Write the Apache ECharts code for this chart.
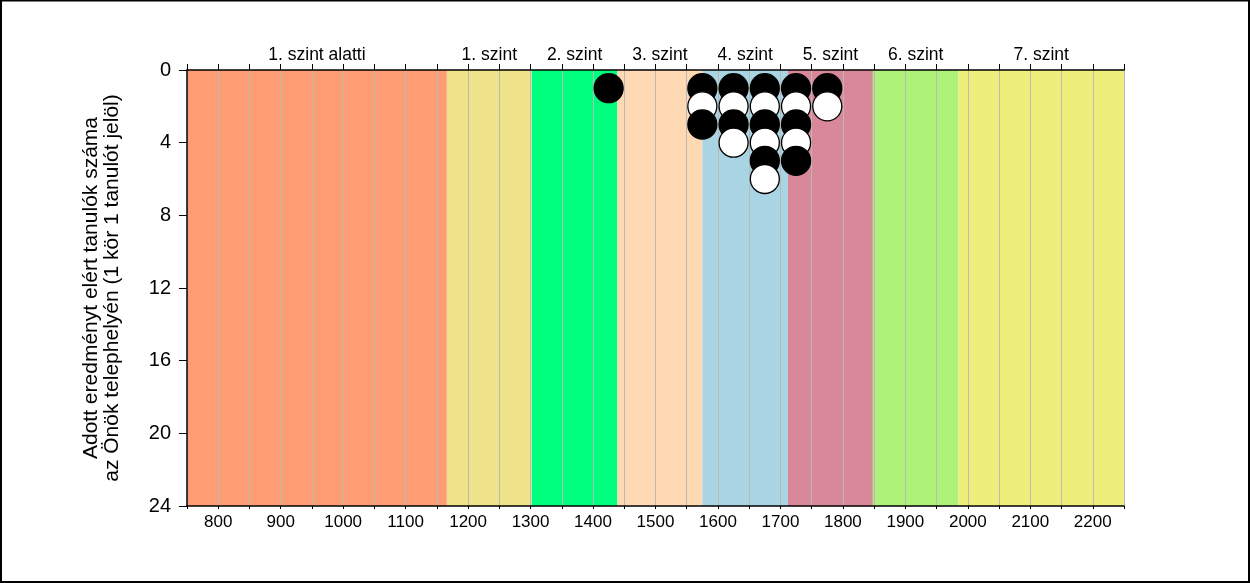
<!DOCTYPE html>
<html>
<head>
<meta charset="utf-8">
<script src="https://cdn.jsdelivr.net/npm/echarts@6/dist/echarts.min.js"></script>
<style>html,body{margin:0;padding:0;background:#fff}#c{width:1250px;height:583px}</style>
</head>
<body>
<div id="c"></div>
<script>
// Level bands (score ranges) and their labels
var bandNames  = ['1. szint alatti', '1. szint', '2. szint', '3. szint', '4. szint', '5. szint', '6. szint', '7. szint'];
var bandStarts = [750, 1166, 1302, 1439, 1575, 1712, 1848, 1985];
var bandEnds   = [1166, 1302, 1439, 1575, 1712, 1848, 1985, 2250];
var bandColors = ['#FE9C74', '#EFE38A', '#00FF7F', '#FFD8B4', '#A8D4E4', '#D9889A', '#AEF27A', '#EEEE7C'];

// Dot columns: score position and the colour sequence of stacked circles (B = black, W = white), from top down
var dotScores = [1425, 1575, 1625, 1675, 1725, 1775];
var dotStacks = ['B', 'BWB', 'BWBW', 'BWBWBW', 'BWBWB', 'BW'];

// Axis settings
var xMin = 750, xMax = 2250, xStep = 50;
var yMin = 0, yMax = 24, yStep = 4;

var bandData = bandNames.map(function (n, i) { return [bandStarts[i], bandEnds[i], i]; });
var dots = [];
dotScores.forEach(function (x, c) {
  var s = dotStacks[c];
  for (var k = 0; k < s.length; k++) {
    dots.push({ value: [x, k + 1], itemStyle: { color: s[k] === 'B' ? '#000000' : '#FFFFFF' } });
  }
});

var FONT = 'Liberation Sans, Arial, sans-serif';
var chart = echarts.init(document.getElementById('c'), null, { renderer: 'canvas' });
chart.setOption({
  animation: false,
  backgroundColor: '#fff',
  grid: { left: 187, right: 126, top: 70, bottom: 77 },
  xAxis: [{
    type: 'value', position: 'bottom', min: xMin, max: xMax, interval: xStep, z: 2,
    axisLine: { show: true, onZero: false, lineStyle: { color: '#000', width: 1.5 } },
    axisTick: { show: true, length: 3, lineStyle: { color: '#000' } },
    axisLabel: {
      show: true, color: '#000', fontSize: 17, fontFamily: FONT, margin: 8,
      formatter: function (v) { return v % 100 === 0 ? String(v) : ''; }
    },
    splitLine: { show: true, lineStyle: { color: '#B9B9B9', width: 1 } }
  }, {
    type: 'value', position: 'top', min: xMin, max: xMax, interval: xStep, z: 2,
    axisLine: { show: true, onZero: false, lineStyle: { color: '#000', width: 1.5 } },
    axisTick: { show: true, length: 6, lineStyle: { color: '#000' } },
    axisLabel: { show: false },
    splitLine: { show: false }
  }],
  yAxis: {
    type: 'value', inverse: true, min: yMin, max: yMax, interval: yStep, z: 2,
    name: 'Adott eredményt elért tanulók száma\naz Önök telephelyén (1 kör 1 tanulót jelöl)',
    nameLocation: 'middle', nameGap: 64,
    nameTextStyle: { color: '#000', fontSize: 21, fontFamily: FONT, lineHeight: 21 },
    axisLine: { show: true, onZero: false, lineStyle: { color: '#000', width: 1.5 } },
    axisTick: { show: true, length: 8, lineStyle: { color: '#000' } },
    axisLabel: { color: '#000', fontSize: 20, fontFamily: FONT, margin: 16 },
    splitLine: { show: false }
  },
  series: [{
    type: 'custom', z: 1, silent: true, clip: false,
    data: bandData,
    renderItem: function (params, api) {
      var x0 = api.value(0), x1 = api.value(1), i = api.value(2);
      var p0 = api.coord([x0, yMin]);
      var p1 = api.coord([x1, yMax]);
      return {
        type: 'group',
        children: [{
          type: 'rect',
          shape: { x: p0[0], y: p0[1], width: p1[0] - p0[0], height: p1[1] - p0[1] },
          style: { fill: bandColors[i] }
        }, {
          type: 'text',
          style: {
            text: bandNames[i], x: (p0[0] + p1[0]) / 2, y: p0[1] - 15,
            align: 'center', verticalAlign: 'middle',
            fill: '#000', fontSize: 17.5, fontFamily: FONT
          }
        }]
      };
    }
  }, {
    type: 'scatter', z: 3, symbol: 'circle', symbolSize: 29,
    itemStyle: { borderColor: '#000', borderWidth: 1.3, opacity: 1 },
    data: dots
  }],
  graphic: [{
    type: 'rect', silent: true, z: 100,
    shape: { x: 1, y: 0.5, width: 1248, height: 581.5 },
    style: { fill: 'none', stroke: '#000', lineWidth: 2 }
  }]
});
</script>
</body>
</html>
